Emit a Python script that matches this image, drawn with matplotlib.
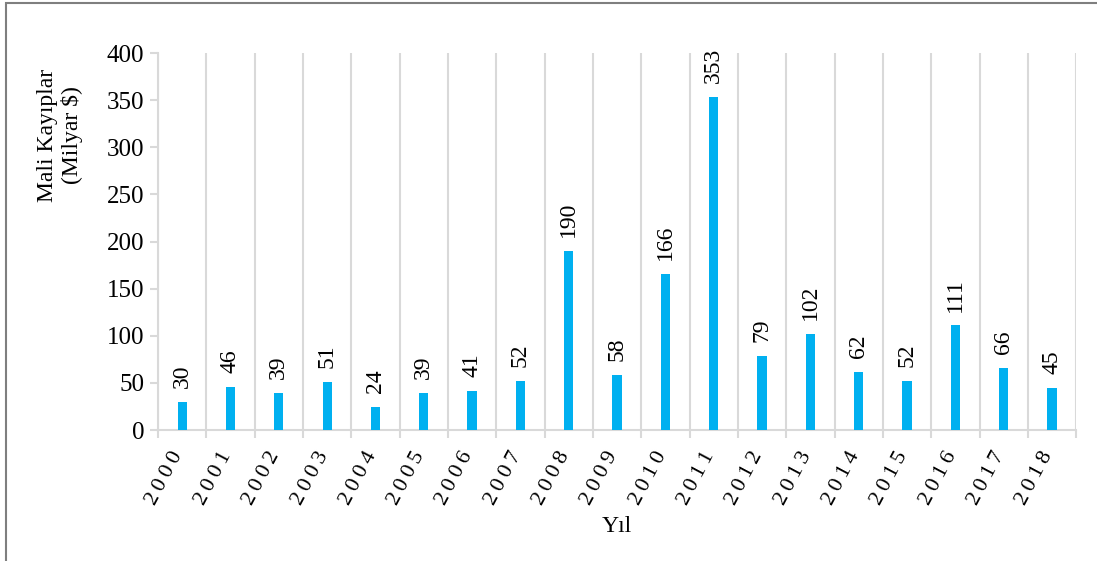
import matplotlib.pyplot as plt
import matplotlib.patches as patches
import matplotlib.transforms as mtransforms

plt.rcParams['font.family'] = ['Liberation Serif', 'DejaVu Serif']

years = [str(y) for y in range(2000, 2019)]
losses = [30, 46, 39, 51, 24, 39, 41, 52, 190, 58, 166, 353, 79, 102, 62, 52, 111, 66, 45]

grid_col = '#d9d9d9'
bar_col = '#00b0f0'

fig = plt.figure(figsize=(10.97, 5.61), dpi=100)
ax = fig.add_axes([0.144, 0.2335, 0.837, 0.672])

x = list(range(len(years)))
ax.bar(x, losses, width=0.19, color=bar_col, zorder=3)

for xi, v in zip(x, losses):
    ax.annotate(str(v), (xi, v), xytext=(0, 10), textcoords='offset points',
                rotation=90, ha='center', va='bottom', fontsize=17)

ax.set_xlim(-0.5, len(years) - 0.5)
ax.set_ylim(0, 400)
ax.set_yticks(range(0, 401, 50))

# boundaries between years carry the grid, centres carry the labels
ax.set_xticks([i - 0.5 for i in range(len(years) + 1)])
ax.set_xticklabels([])
ax.set_xticks(x, minor=True)
spaced = ['\u2009'.join(y) for y in years]
ax.set_xticklabels(spaced, minor=True, rotation=62, ha='right', fontsize=16)
ax.tick_params(axis='x', which='major', length=6, width=1.5, color=grid_col)
ax.tick_params(axis='x', which='minor', length=0, pad=13)
ax.tick_params(axis='y', length=6, width=1.5, color=grid_col, labelsize=18, pad=4)
ax.grid(axis='x', which='major', color=grid_col, linewidth=1.5, zorder=0)

shift = mtransforms.ScaledTranslation(0.05, 0, fig.dpi_scale_trans)
for lab in ax.get_xticklabels(minor=True):
    lab.set_transform(lab.get_transform() + shift)

for s in ['top', 'right']:
    ax.spines[s].set_visible(False)
for s in ['left', 'bottom']:
    ax.spines[s].set_color(grid_col)
    ax.spines[s].set_linewidth(1.5)

fig.text(60 / 1097, 1 - 135 / 561, 'Mali Kayıplar\n(Milyar $)', rotation=90,
         ha='center', va='center', fontsize=17, linespacing=1.15, multialignment='center')
fig.text(617 / 1097, 1 - 527 / 561, 'Yıl', ha='center', va='center', fontsize=17)

# outer frame
fig.patches.append(patches.Rectangle((6 / 1097, -0.05), 1.2, 1 - 3 / 561 + 0.05,
                                     transform=fig.transFigure, fill=False,
                                     edgecolor='#7f7f7f', linewidth=1.5))

fig.savefig('out.png', dpi=100)
